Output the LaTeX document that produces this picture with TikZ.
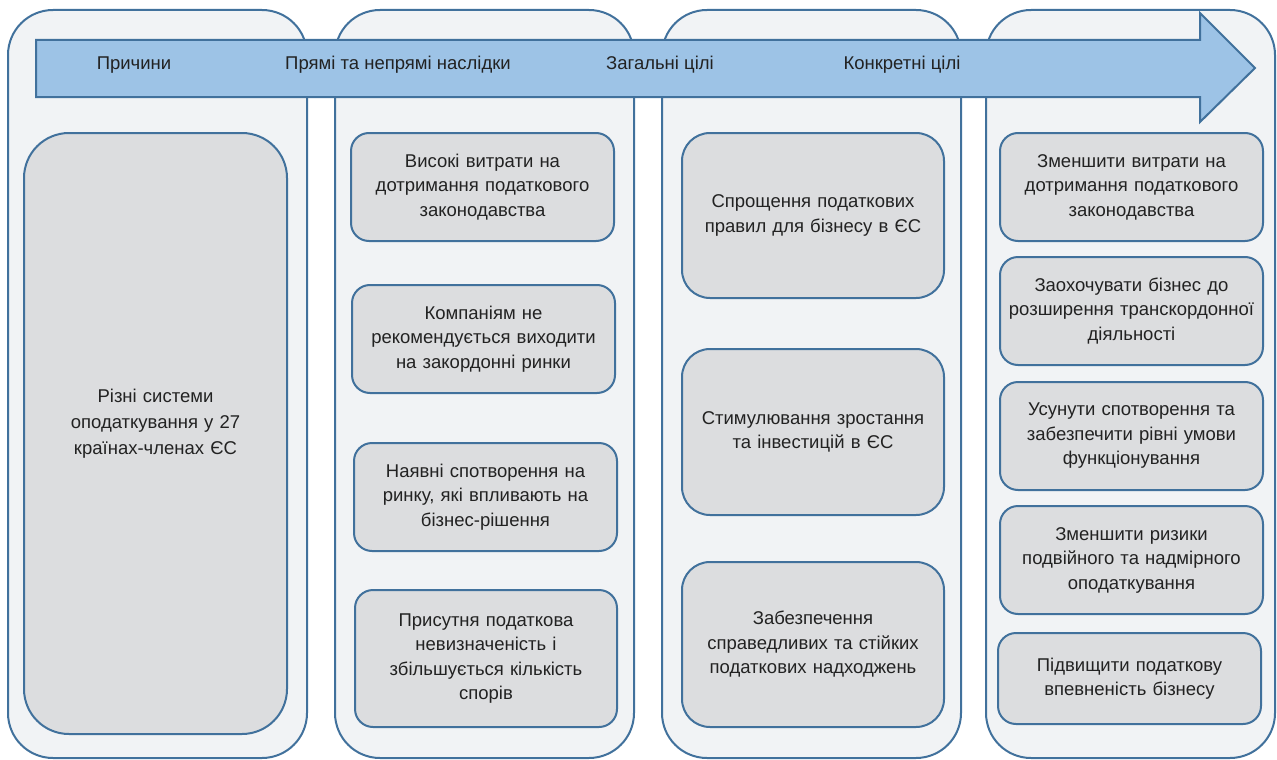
\documentclass[tikz,border=0pt]{standalone}
\usepackage{fontspec}
\setmainfont{Liberation Sans}
\definecolor{edge}{HTML}{41719C}
\definecolor{colfill}{HTML}{F1F3F5}
\definecolor{boxfill}{HTML}{DCDDDF}
\definecolor{arrowfill}{HTML}{9DC3E6}
\definecolor{txt}{HTML}{222222}
\begin{document}
\begin{tikzpicture}[x=1pt,y=-1pt,
  colbox/.style={draw=edge,line width=2pt,fill=colfill,rounded corners=45pt},
  item/.style={draw=edge,line width=2pt,fill=boxfill,rounded corners=18pt,inner sep=0pt,
    align=center,text=txt,font=\fontsize{18.5}{24.5}\selectfont},
  itemtext/.style={inner sep=0pt,align=center,text=txt,font=\fontsize{18.5}{26}\selectfont},
  biglabel/.style={text=txt,font=\fontsize{18.5}{24}\selectfont,anchor=base}]
\useasboundingbox (0,0) rectangle (1277,760);
% columns
\draw[colbox] (8,10) rectangle (307,758);
\draw[colbox] (335,10) rectangle (634,758);
\draw[colbox] (662,10) rectangle (961,758);
\draw[colbox] (986,10) rectangle (1275,758);
% arrow
\draw[draw=edge,line width=2pt,fill=arrowfill,line join=miter]
  (36,40) -- (1200,40) -- (1200,13) -- (1255,68) -- (1200,122) -- (1200,97) -- (36,97) -- cycle;
\node[biglabel] (l1) at (134,70) {Причини};
\node[biglabel] (l2) at (398,70) {Прямі та непрямі наслідки};
\node[biglabel] (l3) at (660,70) {Загальні цілі};
\node[biglabel] (l4) at (902,70) {Конкретні цілі};
% column 1
\node[item,rounded corners=45pt,minimum width=263pt,minimum height=601pt] (c1) at (155.5,433.5) {};
\node[itemtext,text width=240pt] (c1t) at ([yshift=10pt]c1.center)
  {Різні системи\\оподаткування у 27\\країнах-членах ЄС};
% column 2
\node[item,minimum width=263pt,minimum height=108pt,text width=250pt] (b21) at (482.5,187)
  {Високі витрати на\\дотримання податкового\\законодавства};
\node[item,minimum width=263pt,minimum height=108pt,text width=250pt] (b22) at (483.5,339)
  {Компаніям не\\рекомендується виходити\\на закордонні ринки};
\node[item,minimum width=263pt,minimum height=108pt,text width=250pt] (b23) at (485.5,497)
  {Наявні спотворення на\\ринку, які впливають на\\бізнес-рішення};
\node[item,minimum width=262pt,minimum height=137pt,text width=250pt] (b24) at (486,658.5)
  {Присутня податкова\\невизначеність і\\збільшується кількість\\спорів};
% column 3
\node[item,rounded corners=28pt,minimum width=262pt,minimum height=165pt,text width=250pt] (b31) at (813,215.5)
  {Спрощення податкових\\правил для бізнесу в ЄС};
\node[item,rounded corners=28pt,minimum width=262pt,minimum height=166pt,text width=250pt] (b32) at (813,432)
  {Стимулювання зростання\\та інвестицій в ЄС};
\node[item,rounded corners=28pt,minimum width=262pt,minimum height=165pt,text width=250pt] (b33) at (813,644.5)
  {Забезпечення\\справедливих та стійких\\податкових надходжень};
% column 4
\node[item,minimum width=263pt,minimum height=108pt,text width=258pt] (b41) at (1131.5,187)
  {Зменшити витрати на\\дотримання податкового\\законодавства};
\node[item,minimum width=263pt,minimum height=108pt,text width=258pt] (b42) at (1131.5,311)
  {Заохочувати бізнес до\\розширення транскордонної\\діяльності};
\node[item,minimum width=263pt,minimum height=108pt,text width=258pt] (b43) at (1131.5,436)
  {Усунути спотворення та\\забезпечити рівні умови\\функціонування};
\node[item,minimum width=263pt,minimum height=108pt,text width=258pt] (b44) at (1131.5,560)
  {Зменшити ризики\\подвійного та надмірного\\оподаткування};
\node[item,minimum width=263pt,minimum height=91pt,text width=258pt] (b45) at (1129.5,678.5)
  {Підвищити податкову\\впевненість бізнесу};
\end{tikzpicture}
\end{document}
